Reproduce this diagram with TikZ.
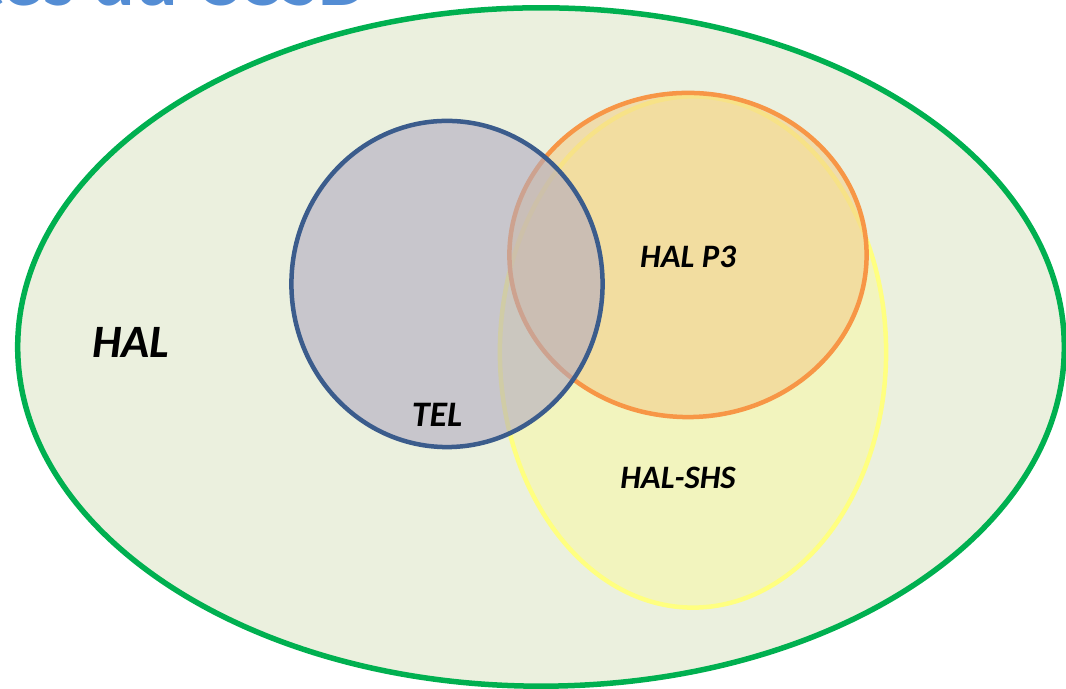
\documentclass[tikz,border=0pt]{standalone}
\usepackage{fontspec}
\setmainfont{Carlito}
\usepackage{xcolor}
\usetikzlibrary{shapes.geometric}
\definecolor{halgreen}{RGB}{0,176,80}
\definecolor{halback}{RGB}{235,240,222}
\definecolor{telblue}{RGB}{59,92,140}
\definecolor{telfill}{RGB}{177,170,192}
\definecolor{pthreeorange}{RGB}{247,150,70}
\definecolor{pthreefill}{RGB}{242,207,140}
\definecolor{shsyellow}{RGB}{255,255,128}
\definecolor{shsfill}{RGB}{247,248,169}
\definecolor{titleblue}{RGB}{84,141,212}
\tikzstyle{setshape} = [ellipse, draw, inner sep=0, outer sep=0,
    line width=0.045cm, fill opacity=0.6]
\tikzstyle{setlabel} = [text=black, inner sep=0]

\begin{document}
\begin{tikzpicture}[x=0.01cm, y=-0.01cm]
    \useasboundingbox (0,0) rectangle (1066,689);
    \clip (0,0) rectangle (1066,689);
    % title, cut off by the top edge
    \node[font=\bfseries\fontsize{22.7}{27}\selectfont, text=titleblue,
        anchor=base east, inner sep=0] (title) at (370,6) {Les archives ouvertes du CCSD};
    % the sets
    \node[setshape, draw=halgreen, fill=halback, fill opacity=1, line width=0.055cm,
        minimum width=10.46cm, minimum height=6.78cm] (hal) at (541,347) {};
    \node[setshape, draw=shsyellow, fill=shsfill,
        minimum width=3.86cm, minimum height=5.11cm] (halshs) at (693,352) {};
    \node[setshape, draw=pthreeorange, fill=pthreefill,
        minimum width=3.57cm, minimum height=3.24cm] (halpthree) at (688,255) {};
    \node[setshape, draw=telblue, fill=telfill,
        minimum width=3.11cm, minimum height=3.26cm] (tel) at (447,284) {};
    % labels
    \node[setlabel, font=\bfseries\itshape\fontsize{13.2}{16}\selectfont] (hallabel) at (131,342) {HAL};
    \node[setlabel, font=\bfseries\itshape\fontsize{10.2}{12}\selectfont] (tellabel) at (437,414.5) {TEL};
    \node[setlabel, font=\bfseries\itshape\fontsize{9.3}{11}\selectfont] (halpthreelabel) at (688,256.5) {HAL P3};
    \node[setlabel, font=\bfseries\itshape\fontsize{9.3}{11}\selectfont] (halshslabel) at (678,477.5) {HAL-SHS};
\end{tikzpicture}
\end{document}
